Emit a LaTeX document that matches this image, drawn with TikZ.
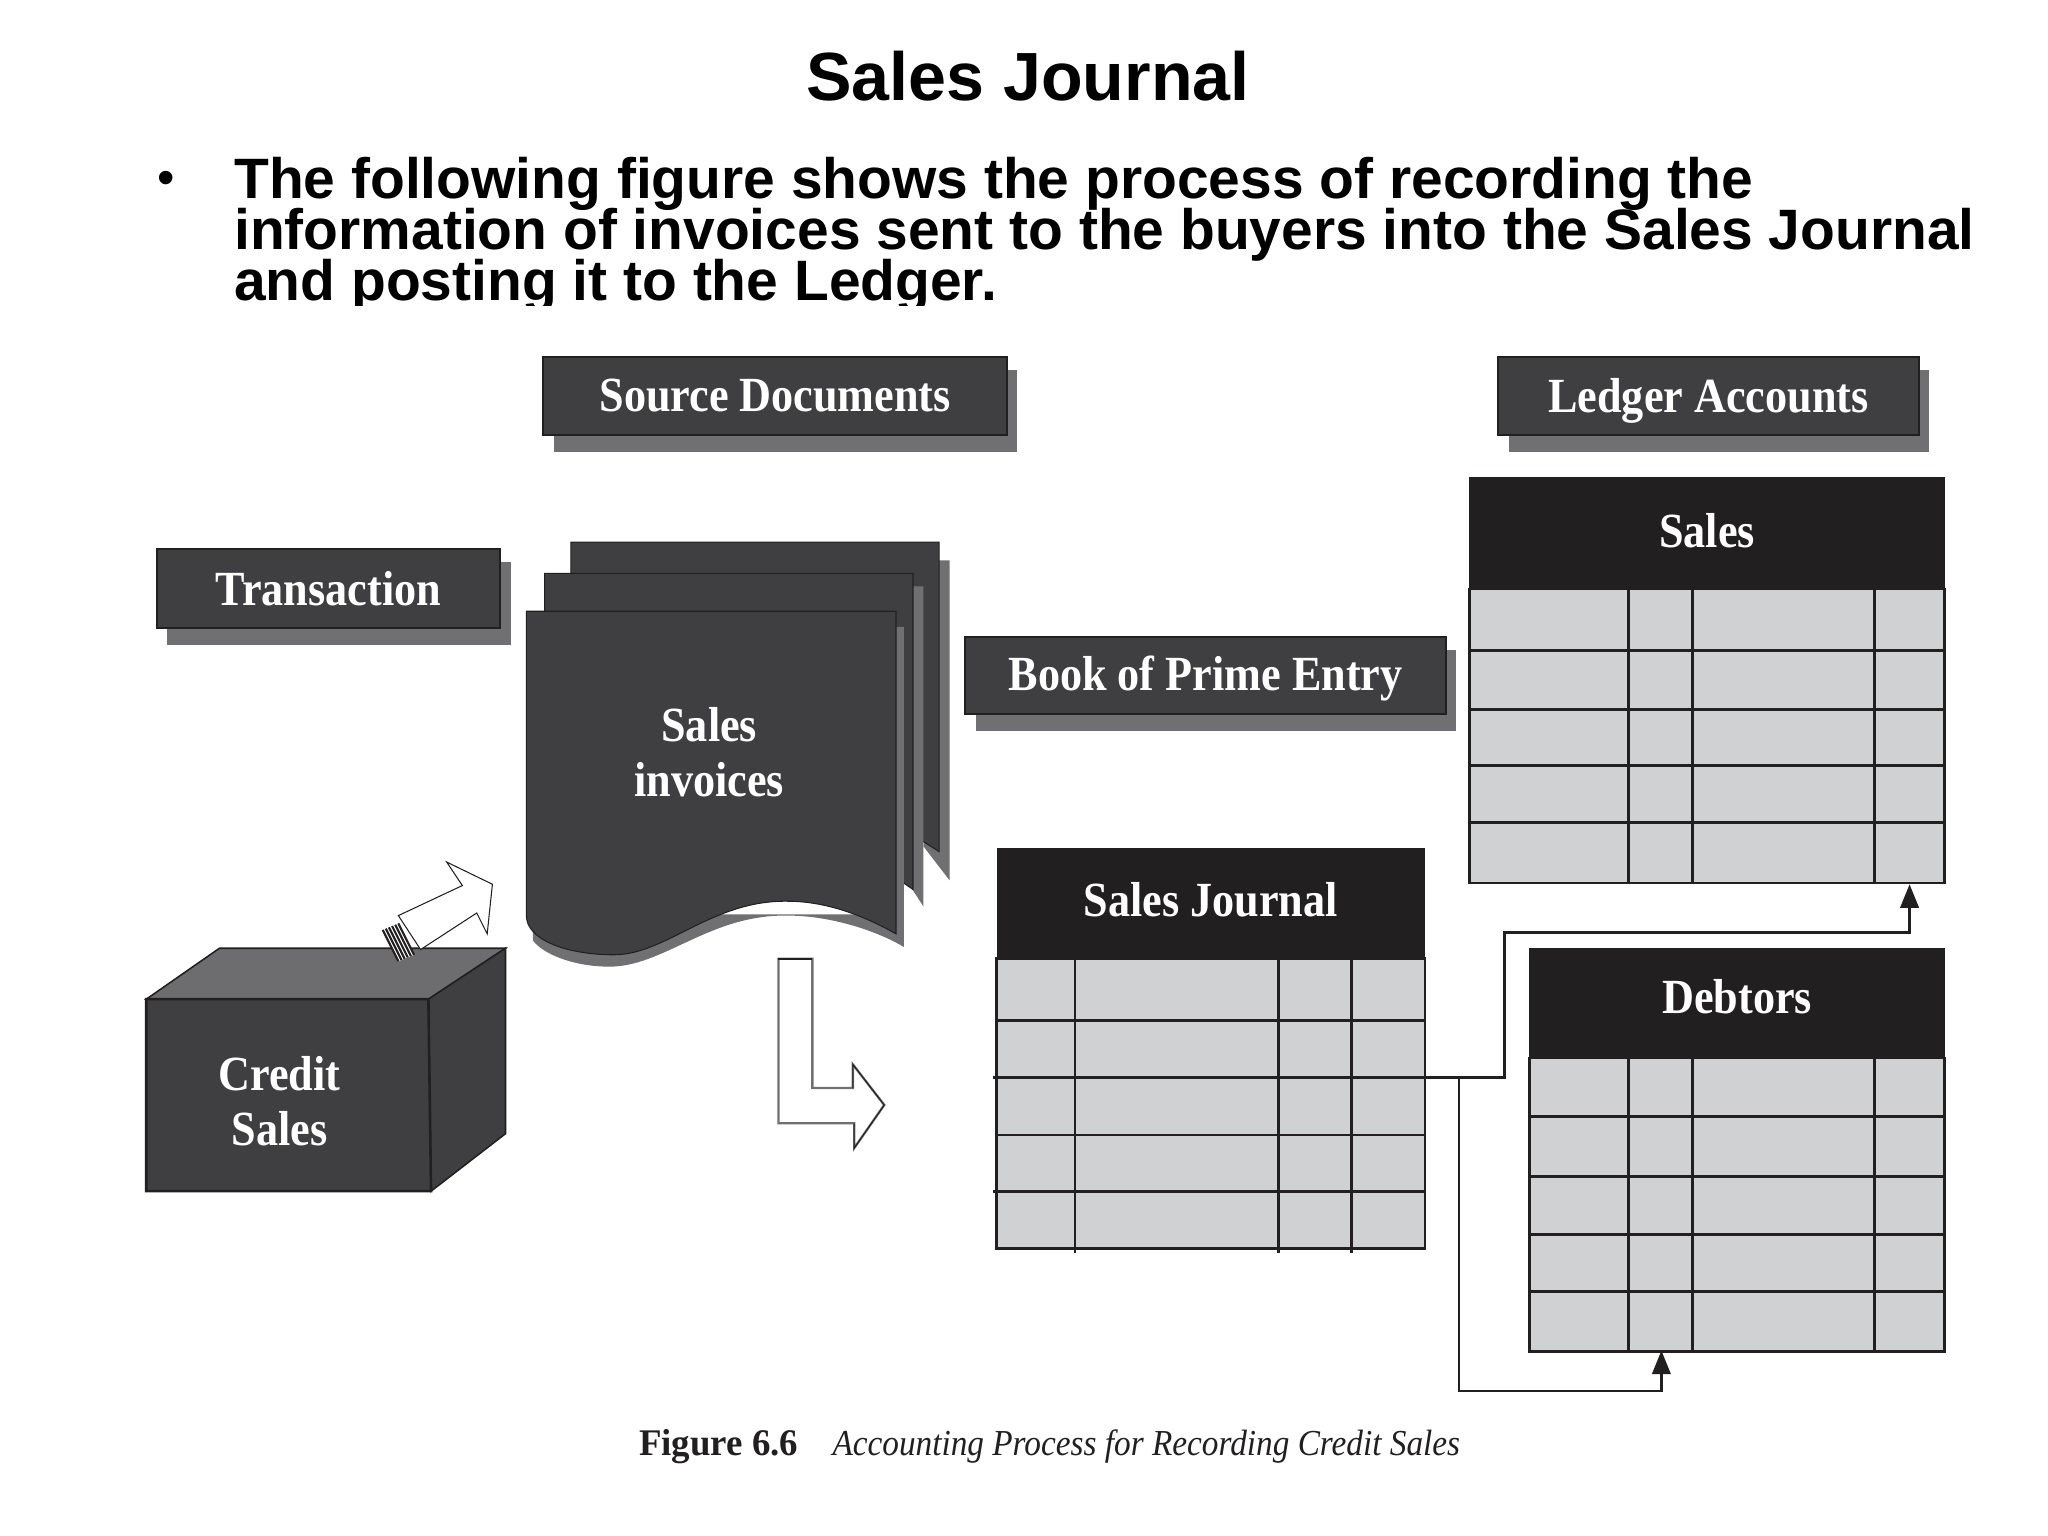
\documentclass[tikz,border=0pt]{standalone}
\usepackage{fontspec}
\usetikzlibrary{fit,arrows.meta}
\setmainfont{Liberation Sans}
\newfontfamily\lblfont[FakeStretch=.90]{Liberation Serif}
\newfontfamily\capfont[FakeStretch=.91]{Liberation Serif}
\newfontfamily\fignofont[FakeStretch=.98]{Liberation Serif}
\definecolor{darkc}{HTML}{3F3F41}
\definecolor{shadowc}{HTML}{707072}
\definecolor{headc}{HTML}{221F20}
\definecolor{cellc}{HTML}{D0D1D3}
\definecolor{topc}{HTML}{6D6D6F}
\tikzset{
  lbl/.style={text=white,font=\lblfont\bfseries\fontsize{18.8}{21}\selectfont,align=center,inner sep=0pt},
  slidebody/.style={anchor=base west,inner sep=0pt,font=\bfseries\fontsize{21.8}{24}\selectfont},
  gridline/.style={draw=headc,line width=1.1pt},
  conn/.style={draw=headc,line width=1.1pt,line cap=rect},
  tip/.style={-{Triangle[length=9pt,width=7pt]}},
  hollow/.style={draw=headc,line width=.4pt,fill=white},
  labelbox/.style={fill=darkc,draw=headc,line width=.8pt,inner sep=0pt},
}
\def\lblshift{0pt}
\newcommand\lblbox[6]{% name x0 y0 x1 y1 text
  \fill[shadowc] ({#2+8},{#3+10}) rectangle ({#4+8},{#5+13});
  \coordinate (#1a) at (#2,#3);
  \coordinate (#1b) at (#4,#5);
  \node[labelbox,fit=(#1a)(#1b)] (#1) {};
  \node[lbl,yshift=\lblshift] (#1t) at (#1.center) {#6};
}
\newcommand\ledger[9]{% name x0 x1 ytop yhead ybottom rows cols title
  \coordinate (#1a) at (#2,#4);
  \coordinate (#1b) at (#3,#5);
  \coordinate (#1c) at (#2,#5);
  \coordinate (#1d) at (#3,#6);
  \node[fit=(#1c)(#1d),fill=cellc,draw=headc,line width=1.1pt,inner sep=0pt] (#1body) {};
  \foreach \r in {#7} \draw[gridline] (#2,\r) -- (#3,\r);
  \foreach \c in {#8} \draw[gridline] (\c,#5) -- (\c,#6);
  \node[fit=(#1a)(#1b),fill=headc,inner sep=0pt] (#1) {};
  \node[lbl,yshift=\lblshift] (#1t) at (#1.center) {#9};
}
\begin{document}
\begin{tikzpicture}[x=.5pt,y=-.5pt]
\useasboundingbox[fill=white] (0,0) rectangle (1568,1176);

% heading
\node[anchor=base,inner sep=0pt,font=\bfseries\fontsize{26.1}{30}\selectfont] (title) at (787,77) {Sales Journal};
\node[anchor=base,inner sep=0pt,font=\fontsize{19}{24}\selectfont] (bullet) at (127,149) {•};
\begin{scope}
  \clip (100,100) rectangle (1568,234);
  \node[slidebody] (l1) at (179,152) {The following figure shows the process of recording the};
  \node[slidebody] (l2) at (179,191) {information of invoices sent to the buyers into the Sales Journal};
  \node[slidebody] (l3) at (179,230) {and posting it to the Ledger.};
\end{scope}

% label boxes
\lblbox{src}{416}{273}{771}{333}{Source Documents}
\def\lblshift{-2pt}
\lblbox{led}{1147}{273}{1469}{333}{Ledger Accounts}
\def\lblshift{0pt}
\lblbox{trn}{120}{420}{383}{481}{Transaction}
\def\lblshift{-1pt}
\lblbox{bpe}{739}{488}{1107}{547}{Book of Prime Entry}

% document stack
\fill[shadowc] (719,429) -- (727,429) -- (727,674) -- (707,648) -- cycle;
\fill[darkc,draw=headc,line width=.4pt] (437,415) -- (719,415) -- (719,652) -- (700,640) -- (437,640) -- cycle;
\fill[shadowc] (699,449) -- (707,449) -- (707,694) -- (690,668) -- cycle;
\fill[darkc,draw=headc,line width=.4pt] (417,439) -- (699,439) -- (699,681) -- (680,668) -- (417,668) -- cycle;
\fill[shadowc] (408,720) .. controls (415,730) and (440,741) .. (470,740) .. controls (510,738) and (545,700) .. (603,701) .. controls (635,701) and (670,712) .. (692,725) -- (692,480) -- (680,480) -- (680,700) -- (408,700) -- cycle;
\fill[darkc,draw=headc,line width=.4pt] (403,468) -- (686,468) -- (686,715) .. controls (665,703) and (635,690) .. (603,690) .. controls (545,689) and (510,731) .. (470,731) .. controls (435,731) and (403,720) .. (403,701) -- cycle;
\node[lbl] (inv) at (543,576) {Sales\\invoices};

% cube
\fill[topc,draw=headc,line width=.6pt] (112,765) -- (168,726) -- (387,726) -- (328,765) -- cycle;
\fill[darkc,draw=headc,line width=.6pt] (328,765) -- (387,726) -- (387,868) -- (330,912) -- cycle;
\fill[darkc,draw=headc,line width=1pt] (112,765) -- (328,765) -- (330,912) -- (112,912) -- cycle;
\node[lbl] (cs) at (214,843) {Credit\\Sales};

% hollow arrow leaving the cube
\filldraw[hollow] (305,701) -- (354,678) -- (342,660) -- (377,677) -- (373,715) -- (365,699) -- (322,727) -- cycle;
\fill[white] (293,712) -- (305,707) -- (317,731) -- (305,736) -- cycle;
\foreach \t in {0,.2,.4,.6,.8,1}
  \draw[headc,line width=.8pt] ({293+12*\t},{712-5*\t}) -- ({305+12*\t},{736-5*\t});

% hollow arrow to the journal
\filldraw[hollow,draw=shadowc,line width=.9pt] (596,734) -- (622,734) -- (622,833) -- (653,833) -- (653,815) -- (677,846) -- (654,879) -- (654,860) -- (596,860) -- cycle;
\draw[headc,line width=.9pt] (596,734) -- (622,734);
\draw[headc,line width=.4pt] (653,833) -- (653,815) -- (677,846) -- (654,879) -- (654,860);

% ledgers
\def\lblshift{1pt}
\ledger{sales}{1125}{1489}{365}{451}{676}{498,543,586,630}{1247,1296,1435}{Sales}
\def\lblshift{2.5pt}
\ledger{debt}{1171}{1489}{726}{810}{1035}{855,901,945,989}{1247,1296,1435}{Debtors}
\def\lblshift{1.5pt}
\ledger{sj}{763}{1091}{649}{734}{956}{781,825,869,912}{823,979,1035}{Sales Journal}
\draw[gridline] (760,825) -- (763,825);
\draw[gridline] (760,912) -- (763,912);
\foreach \c in {823,979,1035} \draw[gridline] (\c,956) -- (\c,959);

% posting connectors
\coordinate (sjout) at (sjbody.east |- 0,825);
\coordinate (bendA) at (1152,714);
\coordinate (salesin) at (1462,677);
\coordinate (branch) at (1117,825);
\coordinate (bendB) at (1272,1065);
\coordinate (debtin) at (1272,1034);
\draw[conn,tip] (sjout) -| (bendA) -| (salesin);
\draw[conn] (branch) |- (bendB);
\draw[conn,tip] (bendB) -- (debtin);

% caption
\node[anchor=base west,inner sep=0pt,text=headc,font=\fignofont\bfseries\fontsize{14.4}{16}\selectfont] (figno) at (489,1114) {Figure 6.6};
\node[anchor=base west,inner sep=0pt,text=headc,font=\capfont\itshape\fontsize{14}{16}\selectfont] (figcap) at (637,1114) {Accounting Process for Recording Credit Sales};
\end{tikzpicture}
\end{document}
